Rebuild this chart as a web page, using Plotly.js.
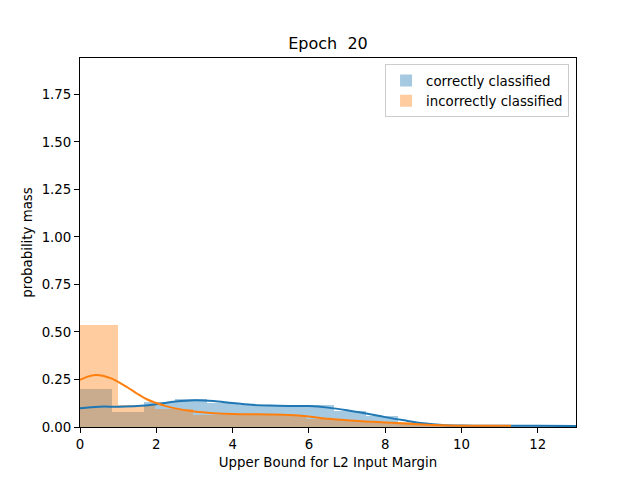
<!DOCTYPE html>
<html>
<head>
<meta charset="utf-8">
<script src="https://cdn.plot.ly/plotly-3.0.1.min.js"></script>
<style>html,body{margin:0;padding:0;background:#fff;}#chart{width:640px;height:480px;}</style>
</head>
<body>
<div id="chart"></div>
<script>
// Histogram bin edges and heights (probability mass)
const correctEdges = [0, 0.833, 1.667, 2.5, 3.333, 4.167, 5.0, 5.833, 6.667, 7.5, 8.333, 9.167, 10.0, 10.833, 11.667, 12.5, 13.333];
const correctHeights = [0.200, 0.078, 0.134, 0.147, 0.126, 0.118, 0.113, 0.116, 0.083, 0.059, 0.020, 0.010, 0.004, 0.003, 0.003, 0.003];
const incorrectEdges = [0, 0.988, 1.976, 2.964, 3.952, 4.940, 5.928, 6.916, 7.904, 8.892, 9.880, 10.868];
const incorrectHeights = [0.537, 0.117, 0.096, 0.064, 0.064, 0.063, 0.040, 0.030, 0.025, 0.008, 0.004];

// KDE curves
const correctKdeX = [0, 0.5, 1.0, 1.5, 2.0, 2.5, 3.0, 3.5, 4.0, 4.5, 5.0, 5.5, 6.0, 6.5, 7.0, 7.5, 8.0, 8.5, 9.0, 9.5, 10.0, 10.5, 11.0, 12.0, 13.0];
const correctKdeY = [0.099, 0.107, 0.107, 0.110, 0.120, 0.134, 0.141, 0.137, 0.126, 0.117, 0.113, 0.111, 0.110, 0.102, 0.088, 0.071, 0.052, 0.035, 0.020, 0.011, 0.008, 0.007, 0.006, 0.006, 0.005];
const incorrectKdeX = [0, 0.2, 0.4, 0.6, 0.8, 1.0, 1.25, 1.5, 1.75, 2.0, 2.25, 2.5, 3.0, 3.5, 4.0, 4.5, 5.0, 5.5, 6.0, 6.5, 7.0, 7.5, 8.0, 8.5, 9.0, 9.5, 10.0, 10.5, 11.0, 11.3];
const incorrectKdeY = [0.248, 0.265, 0.274, 0.270, 0.257, 0.238, 0.208, 0.175, 0.146, 0.126, 0.110, 0.098, 0.082, 0.073, 0.068, 0.067, 0.066, 0.063, 0.055, 0.043, 0.035, 0.029, 0.024, 0.019, 0.013, 0.009, 0.007, 0.006, 0.006, 0.006];

const xTicks = [0, 2, 4, 6, 8, 10, 12];
const yTicks = [0, 0.25, 0.5, 0.75, 1.0, 1.25, 1.5, 1.75];

function centers(e) { return e.slice(0, -1).map((v, i) => (v + e[i + 1]) / 2); }
function widths(e) { return e.slice(0, -1).map((v, i) => e[i + 1] - v); }

const blue = '#1f77b4', orange = '#ff7f0e';
const blueFill = 'rgba(31,119,180,0.4)', orangeFill = 'rgba(255,127,14,0.4)';

const traces = [
  {type: 'bar', name: 'correctly classified', x: centers(correctEdges), y: correctHeights, width: widths(correctEdges),
   marker: {color: blueFill, line: {width: 0}}, hoverinfo: 'skip'},
  {type: 'bar', name: 'incorrectly classified', x: centers(incorrectEdges), y: incorrectHeights, width: widths(incorrectEdges),
   marker: {color: orangeFill, line: {width: 0}}, hoverinfo: 'skip'},
  {type: 'scatter', mode: 'lines', x: correctKdeX, y: correctKdeY, line: {color: blue, width: 2, shape: 'spline', smoothing: 1}, showlegend: false, cliponaxis: true},
  {type: 'scatter', mode: 'lines', x: incorrectKdeX, y: incorrectKdeY, line: {color: orange, width: 2, shape: 'spline', smoothing: 1}, showlegend: false, cliponaxis: true}
];

const font = {family: 'DejaVu Sans', size: 13.33, color: '#000'};

const layout = {
  width: 640, height: 480,
  paper_bgcolor: '#fff', plot_bgcolor: '#fff',
  margin: {l: 80, r: 64, t: 57.6, b: 52.8, pad: 0},
  barmode: 'overlay', bargap: 0,
  font: font,
  title: {text: 'Epoch\u00a0\u00a020', font: {family: 'DejaVu Sans', size: 16, color: '#000'},
          x: 0.5125, xref: 'container', xanchor: 'center', y: 1 - 43 / 480, yref: 'container', yanchor: 'middle'},
  xaxis: {range: [0, 13], tickvals: xTicks, ticktext: xTicks.map(String), showgrid: false, zeroline: false,
          showline: true, mirror: true, linecolor: '#000', linewidth: 1, ticks: 'outside', ticklen: 5, tickwidth: 1, tickcolor: '#000',
          tickfont: font, title: {text: 'Upper Bound for L2 Input Margin', font: font, standoff: 6}},
  yaxis: {range: [0, 1.942], tickvals: yTicks, ticktext: yTicks.map(v => v.toFixed(2)), showgrid: false, zeroline: false,
          showline: true, mirror: true, linecolor: '#000', linewidth: 1, ticks: 'outside', ticklen: 5, tickwidth: 1, tickcolor: '#000',
          tickfont: font, title: {text: 'probability mass', font: font, standoff: 5}},
  legend: {x: 0.986, xanchor: 'right', y: 0.983, yanchor: 'top', bgcolor: 'rgba(255,255,255,0.8)', bordercolor: '#cccccc', borderwidth: 1,
           font: font, traceorder: 'normal', tracegroupgap: 0},
  showlegend: true
};

Plotly.newPlot('chart', traces, layout, {staticPlot: true, displayModeBar: false});
</script>
</body>
</html>
